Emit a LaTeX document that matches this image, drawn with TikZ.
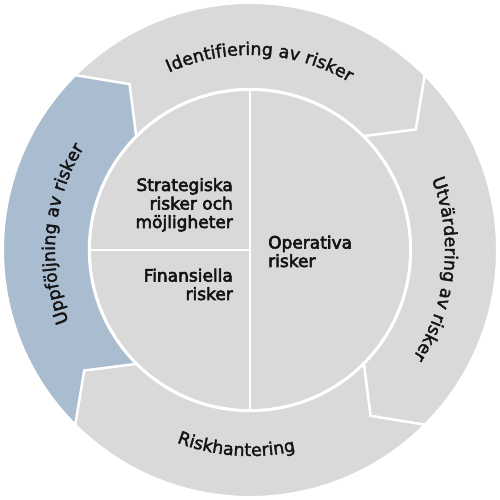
\documentclass[tikz,border=0pt]{standalone}
\usepackage{fontspec}
\setmainfont{DejaVu Sans}
\newfontfamily\areafamily[FakeBold=3.5]{DejaVu Sans}
\newfontfamily\ringfamily[FakeBold=2]{DejaVu Sans}
\definecolor{ringgray}{RGB}{217, 217, 217}
\definecolor{ringblue}{RGB}{170, 189, 208}
\definecolor{labeltext}{RGB}{20, 20, 20}
\usepackage{tikz}
\usetikzlibrary{decorations.text}
\newcommand{\ringfont}{\ringfamily\fontsize{17.5}{20}\selectfont}

\tikzset{
  segment/.style={draw=white, line width=2.4pt, line join=miter},
  divider/.style={draw=white, line width=2.6pt},
  ringlabel/.style={decorate, decoration={text along path, text align=center,
      text color=labeltext, text={|\ringfont|#1}}},
  areatext/.style={font=\areafamily\fontsize{17}{18.5}\selectfont, text=labeltext, inner sep=0pt}
}

\begin{document}
\begin{tikzpicture}[x=1pt, y=1pt]
  \useasboundingbox (-250,-250) rectangle (250,250);

  % Outer ring: four arrow segments, clockwise
  \foreach \a/\col in {135/ringgray, 45/ringgray, -45/ringgray, 225/ringblue}
    \path[segment, fill=\col] (\a:247.2) arc[start angle=\a, end angle=\a-90, radius=247.2]
      -- (\a-99:205) -- (\a-90:161) arc[start angle=\a-90, end angle=\a, radius=161]
      -- (\a-9:205) -- cycle;

  % Ring labels
  \path[ringlabel={Identifiering av risker}] (147:195) arc[start angle=147, end angle=27, radius=195];
  \path[ringlabel={Utvärdering av risker}] (54:195) arc[start angle=54, end angle=-66, radius=195];
  \path[ringlabel={Riskhantering}] (206:206) arc[start angle=206, end angle=326, radius=206];
  \path[ringlabel={Uppföljning av risker}] (235:195) arc[start angle=235, end angle=115, radius=195];

  % Inner circle
  \fill[ringgray] (0,0) circle[radius=159];
  \draw[divider] (0,159) -- (0,-159);
  \draw[divider] (-159,0) -- (0,0);

  \node[areatext, align=right, anchor=base east] (strategic) at (-17,22) {Strategiska\\risker och\\möjligheter};
  \node[areatext, align=right, anchor=base east] (financial) at (-17,-50) {Finansiella\\risker};
  \node[areatext, align=left, anchor=base west] (operational) at (18,-17) {Operativa\\risker};
\end{tikzpicture}
\end{document}
